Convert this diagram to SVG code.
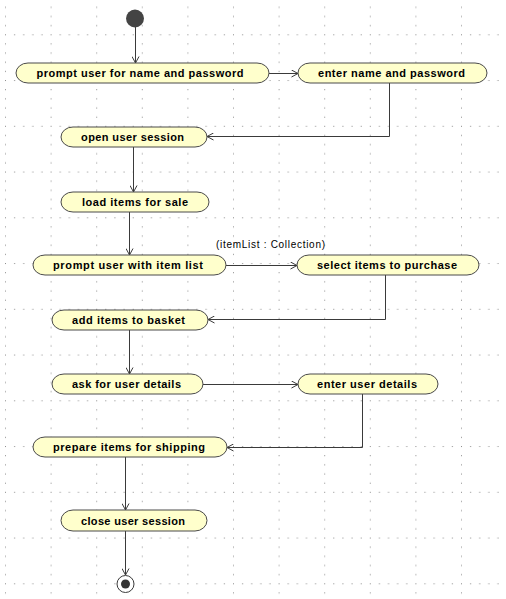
<svg xmlns="http://www.w3.org/2000/svg" width="506" height="599" viewBox="0 0 506 599">
<style>
.node rect{fill:#ffffcc;stroke:#4a4a4a;stroke-width:1}
.node text{font-family:"Liberation Sans",Arial,sans-serif;font-weight:bold;font-size:11px;fill:#000;text-anchor:middle}
.conn path{fill:none;stroke:#3a3a3a;stroke-width:1;marker-end:url(#arr)}
.lbl{font-family:"Liberation Sans",Arial,sans-serif;font-size:10px;fill:#000}
</style>
<defs>
<pattern id="grid" patternUnits="userSpaceOnUse" x="5" y="34.3" width="45.6" height="45.75">
<g fill="#8a8a8a">
<rect x="0" y="0" width="1" height="1"/>
<rect x="0" y="9.15" width="1" height="1"/>
<rect x="0" y="18.3" width="1" height="1"/>
<rect x="0" y="27.45" width="1" height="1"/>
<rect x="0" y="36.6" width="1" height="1"/>
<rect x="9.12" y="0" width="1" height="1"/>
<rect x="18.24" y="0" width="1" height="1"/>
<rect x="27.36" y="0" width="1" height="1"/>
<rect x="36.48" y="0" width="1" height="1"/>
</g>
</pattern>
<marker id="arr" markerUnits="userSpaceOnUse" viewBox="0 0 8 8" refX="7.5" refY="4" markerWidth="8" markerHeight="8" orient="auto">
<path d="M1,0.5 L7.5,4 L1,7.5" fill="none" stroke="#3a3a3a" stroke-width="1"/>
</marker>
</defs>
<rect width="506" height="599" fill="#ffffff"/>
<rect width="506" height="599" fill="url(#grid)"/>

<g id="connectors" class="conn">
<path d="M135.5,27 V63"/>
<path d="M269,73.5 H298"/>
<path d="M389.5,83 V136.5 H207"/>
<path d="M133.5,147 V192"/>
<path d="M129.5,212 V255"/>
<path d="M226,265.5 H297"/>
<path d="M385.5,275 V319.5 H208"/>
<path d="M129.5,330 V374"/>
<path d="M203,384.5 H298"/>
<path d="M362.5,394 V447.5 H227"/>
<path d="M125.5,457 V510"/>
<path d="M125.5,531 V575"/>
<text class="lbl" x="216" y="248" textLength="109">(itemList : Collection)</text>
</g>

<g id="start">
<circle cx="135" cy="18.5" r="9" fill="#444444"/>
</g>

<g id="n1" class="node"><rect x="16" y="63" width="253" height="20" rx="12" ry="10"/><text x="140" y="77" textLength="207">prompt user for name and password</text></g>
<g id="n2" class="node"><rect x="298" y="63" width="189" height="20" rx="12" ry="10"/><text x="391.5" y="77" textLength="147">enter name and password</text></g>
<g id="n3" class="node"><rect x="61" y="127" width="146" height="20" rx="12" ry="10"/><text x="132.5" y="141" textLength="103">open user session</text></g>
<g id="n4" class="node"><rect x="61" y="192" width="148" height="20" rx="12" ry="10"/><text x="135" y="206" textLength="106">load items for sale</text></g>
<g id="n5" class="node"><rect x="33" y="255" width="193" height="20" rx="12" ry="10"/><text x="128" y="269" textLength="150">prompt user with item list</text></g>
<g id="n6" class="node"><rect x="297" y="255" width="182" height="20" rx="12" ry="10"/><text x="387" y="269" textLength="140">select items to purchase</text></g>
<g id="n7" class="node"><rect x="52" y="310" width="156" height="20" rx="12" ry="10"/><text x="128.5" y="324" textLength="113">add items to basket</text></g>
<g id="n8" class="node"><rect x="52" y="374" width="151" height="20" rx="12" ry="10"/><text x="126.5" y="388" textLength="109">ask for user details</text></g>
<g id="n9" class="node"><rect x="298" y="374" width="140" height="20" rx="12" ry="10"/><text x="367" y="388" textLength="100">enter user details</text></g>
<g id="n10" class="node"><rect x="33" y="437" width="194" height="20" rx="12" ry="10"/><text x="129" y="451" textLength="152">prepare items for shipping</text></g>
<g id="n11" class="node"><rect x="61" y="510" width="146" height="21" rx="12" ry="10.5"/><text x="133" y="524.5" textLength="104">close user session</text></g>

<g id="end">
<circle cx="125.5" cy="584" r="8.5" fill="#ffffff" stroke="#3a3a3a" stroke-width="1"/>
<circle cx="125.5" cy="584" r="4.5" fill="#333333"/>
</g>
</svg>
